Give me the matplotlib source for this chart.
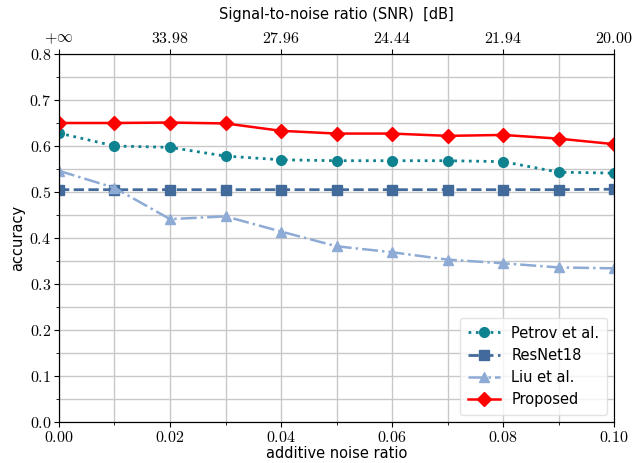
import numpy as np
import matplotlib
matplotlib.use("Agg")
import matplotlib.pyplot as plt
from matplotlib.ticker import MultipleLocator

# data
noise = [0.00, 0.01, 0.02, 0.03, 0.04, 0.05, 0.06, 0.07, 0.08, 0.09, 0.10]
petrov = [0.628, 0.600, 0.597, 0.578, 0.570, 0.568, 0.568, 0.568, 0.566, 0.543, 0.541]
resnet = [0.505, 0.505, 0.505, 0.505, 0.505, 0.505, 0.505, 0.505, 0.505, 0.505, 0.506]
liu = [0.546, 0.509, 0.441, 0.447, 0.414, 0.382, 0.369, 0.353, 0.345, 0.336, 0.334]
proposed = [0.650, 0.650, 0.651, 0.649, 0.633, 0.627, 0.627, 0.622, 0.624, 0.616, 0.604]

snr_pos = [0.00, 0.02, 0.04, 0.06, 0.08, 0.10]
snr_labels = [r"$+\infty$", "$33.98$", "$27.96$", "$24.44$", "$21.94$", "$20.00$"]

plt.rcParams["mathtext.fontset"] = "cm"

fig = plt.figure(figsize=(6.39, 4.63), dpi=100)
ax = fig.add_axes([0.0923, 0.0886, 0.8687, 0.7948])

ax.plot(noise, petrov, ls=":", lw=2, marker="o", ms=7, color="#0f8290", label="Petrov et al.")
ax.plot(noise, resnet, ls="--", lw=2, marker="s", ms=7, color="#426b9c", label="ResNet18")
ax.plot(noise, liu, ls="-.", lw=1.8, marker="^", ms=7, color="#8eabd5", label="Liu et al.")
ax.plot(noise, proposed, ls="-", lw=1.8, marker="D", ms=7, color="#ff0000", label="Proposed")

ax.set_xlim(0, 0.1)
ax.set_ylim(0, 0.8)
ax.xaxis.set_major_locator(MultipleLocator(0.02))
ax.xaxis.set_minor_locator(MultipleLocator(0.01))
ax.yaxis.set_major_locator(MultipleLocator(0.1))
ax.yaxis.set_minor_locator(MultipleLocator(0.05))
ax.set_xticklabels([f"${v:.2f}$" for v in ax.get_xticks()])
ax.set_yticklabels([f"${v:.1f}$" for v in ax.get_yticks()])
ax.grid(True, which="both", color="#c8c8c8", lw=1)
ax.set_axisbelow(True)
ax.tick_params(labelsize=11.5, direction="out", pad=2)
for s in ["left", "bottom", "top"]:
    ax.spines[s].set_color("black")
ax.spines["right"].set_color("#707070")

ax.set_xlabel("additive noise ratio", fontsize=10.5, labelpad=1)
ax.set_ylabel("accuracy", fontsize=10.5, labelpad=3)

top = ax.twiny()
top.set_xlim(ax.get_xlim())
top.set_xticks(snr_pos)
top.set_xticklabels(snr_labels)
top.tick_params(labelsize=11.5, pad=2)
top.set_xlabel("Signal-to-noise ratio (SNR)  [dB]", fontsize=10.5, labelpad=9)

ax.legend(loc="lower right", fontsize=10.5, framealpha=0.8, edgecolor="#dddddd",
          borderpad=0.5, handlelength=2.2)

fig.savefig("out.png", dpi=100)
